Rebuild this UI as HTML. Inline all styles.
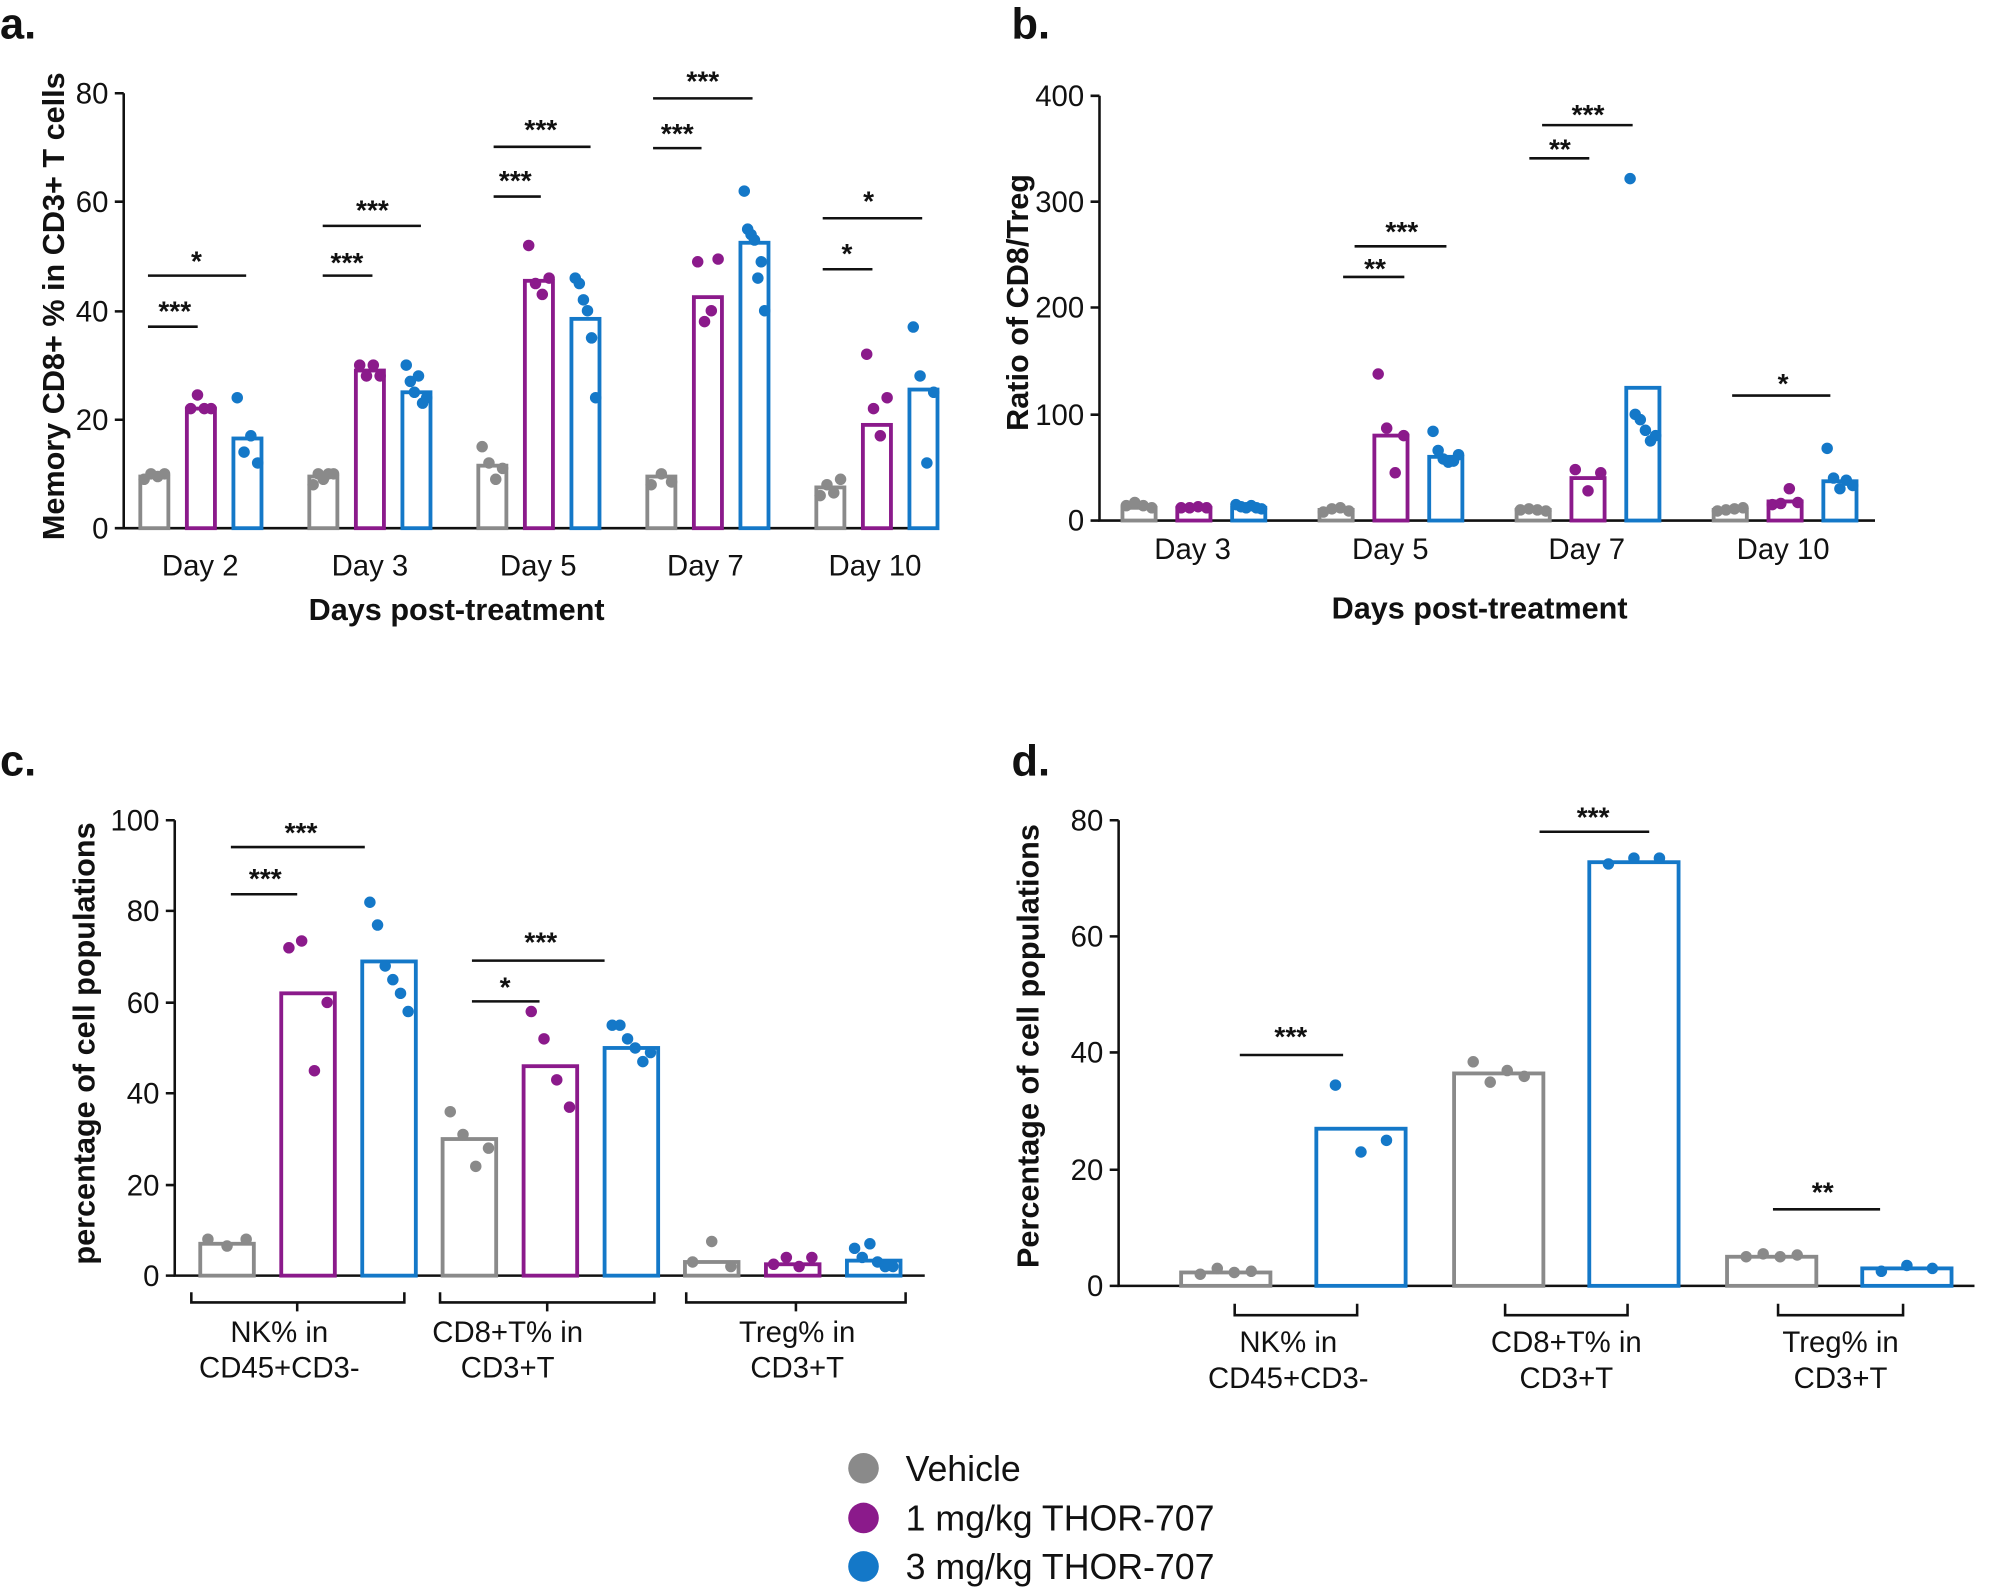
<!DOCTYPE html>
<html><head><meta charset="utf-8"><style>
html,body{margin:0;padding:0;background:#fff}
svg{display:block}
text{font-family:"Liberation Sans",Arial,sans-serif;fill:#111}
</style></head><body>
<svg id="s" width="2000" height="1587" viewBox="0 0 1568 1244" xmlns="http://www.w3.org/2000/svg">
<g font-weight="bold" font-size="34">
<text x="0" y="30">a.</text><text x="793" y="30">b.</text>
<text x="0" y="608">c.</text><text x="793" y="608">d.</text>
</g>
<g stroke="#111" stroke-width="2" fill="none">
<path d="M97,73V414H735"/>
<path d="M90,73H97M90,158H97M90,244H97M90,329H97M90,414H97"/>
<path d="M862,75V408H1470"/>
<path d="M855,75H862M855,158H862M855,241H862M855,325H862M855,408H862"/>
<path d="M137,643V1000H725"/>
<path d="M130,643H137M130,714H137M130,786H137M130,857H137M130,929H137M130,1000H137"/>
<path d="M877,643V1008H1548"/>
<path d="M870,643H877M870,734H877M870,825H877M870,917H877M870,1008H877"/>
<path d="M150,1013V1021H317V1013M233,1021V1028"/>
<path d="M345,1013V1021H513V1013M429,1021V1028"/>
<path d="M538,1013V1021H710V1013M624,1021V1028"/>
<path d="M968,1022V1031H1064V1022"/>
<path d="M1180,1022V1031H1276V1022"/>
<path d="M1394,1022V1031H1492V1022"/>
</g>
<g font-size="23" text-anchor="end">
<text x="85" y="81">80</text><text x="85" y="166">60</text><text x="85" y="252">40</text><text x="85" y="337">20</text><text x="85" y="422">0</text>
<text x="850" y="83">400</text><text x="850" y="166">300</text><text x="850" y="249">200</text><text x="850" y="333">100</text><text x="850" y="416">0</text>
<text x="125" y="651">100</text><text x="125" y="722">80</text><text x="125" y="794">60</text><text x="125" y="865">40</text><text x="125" y="937">20</text><text x="125" y="1008">0</text>
<text x="865" y="651">80</text><text x="865" y="742">60</text><text x="865" y="833">40</text><text x="865" y="925">20</text><text x="865" y="1016">0</text>
</g>
<g font-size="23" text-anchor="middle">
<text x="157" y="451">Day 2</text><text x="290" y="451">Day 3</text><text x="422" y="451">Day 5</text><text x="553" y="451">Day 7</text><text x="686" y="451">Day 10</text>
<text x="935" y="438">Day 3</text><text x="1090" y="438">Day 5</text><text x="1244" y="438">Day 7</text><text x="1398" y="438">Day 10</text>
<text x="219" y="1052">NK% in</text><text x="219" y="1080">CD45+CD3-</text>
<text x="398" y="1052">CD8+T% in</text><text x="398" y="1080">CD3+T</text>
<text x="625" y="1052">Treg% in</text><text x="625" y="1080">CD3+T</text>
<text x="1010" y="1060">NK% in</text><text x="1010" y="1088">CD45+CD3-</text>
<text x="1228" y="1060">CD8+T% in</text><text x="1228" y="1088">CD3+T</text>
<text x="1443" y="1060">Treg% in</text><text x="1443" y="1088">CD3+T</text>
</g>
<g font-size="24" font-weight="bold" text-anchor="middle">
<text x="358" y="486">Days post-treatment</text>
<text x="1160" y="485">Days post-treatment</text>
<text transform="translate(50,240) rotate(-90)">Memory CD8+ % in CD3+ T cells</text>
<text transform="translate(806,237) rotate(-90)">Ratio of CD8/Treg</text>
<text transform="translate(74,818) rotate(-90)">percentage of cell populations</text>
<text transform="translate(814,820) rotate(-90)">Percentage of cell populations</text>
</g>
<g id="dyn"></g>
<g font-size="28">
<circle cx="677" cy="1151" r="12" fill="#8a8a8a"/><text x="710" y="1161">Vehicle</text>
<circle cx="677" cy="1190" r="12" fill="#8b1a8b"/><text x="710" y="1200">1 mg/kg THOR-707</text>
<circle cx="677" cy="1228" r="12" fill="#1478c8"/><text x="710" y="1238">3 mg/kg THOR-707</text>
</g>
<g font-size="22" font-weight="bold" text-anchor="middle">
<text x="137" y="251">***</text><text x="154" y="212">*</text>
<text x="272" y="213">***</text><text x="292" y="172">***</text>
<text x="404" y="149">***</text><text x="424" y="109">***</text>
<text x="531" y="112">***</text><text x="551" y="71">***</text>
<text x="664" y="206">*</text><text x="681" y="165">*</text>
<text x="1078" y="218">**</text><text x="1099" y="189">***</text>
<text x="1223" y="124">**</text><text x="1245" y="97">***</text>
<text x="1398" y="308">*</text>
<text x="208" y="696">***</text><text x="236" y="660">***</text>
<text x="396" y="781">*</text><text x="424" y="746">***</text>
<text x="1012" y="820">***</text><text x="1249" y="648">***</text><text x="1429" y="942">**</text>
</g>
<g stroke="#111" stroke-width="2">
<path d="M116,256H155M116,216H193M253,216H292M253,177H330M387,154H424M387,115H463M512,116H550M512,77H590M645,211H684M645,171H723"/>
<path d="M1053,217H1101M1062,193H1134M1199,124H1246M1209,98H1280M1358,310H1435"/>
<path d="M181,701H233M181,664H286M370,785H423M370,753H474M972,827H1053M1207,652H1293M1390,948H1474"/>
</g>
</svg>
<script>
var C=["#8a8a8a","#8b1a8b","#1478c8"];
var g=document.getElementById("dyn"),h="";
function bar(x,w,y0,sc,v,c){var t=y0-v*sc;h+='<rect x="'+x+'" y="'+t+'" width="'+w+'" height="'+(y0-t)+'" fill="none" stroke="'+c+'" stroke-width="3"/>';}
function dots(cx,w,y0,sc,vals,c){var n=vals.length;for(var i=0;i<n;i++){var x=cx-w/2+ (n>1? i*w/(n-1):w/2);h+='<circle cx="'+x+'" cy="'+(y0-vals[i]*sc)+'" r="4.5" fill="'+c+'"/>';}}
var A=[[9.5,22,16.5],[9.5,29,25],[11.5,45.5,38.5],[9.5,42.5,52.5],[7.5,19,25.5]];
var AD=[[[9,10,9.5,10],[22,24.5,22,22],[24,14,17,12]],[[8,10,9,10,10],[30,28,30,28],[30,27,25,28,23,24]],[[15,12,9,11],[52,45,43,46],[46,45,42,40,35,24]],[[8,10,8.5],[49,38,40,49.5],[62,55,54,53,46,49,40]],[[6,8,6.5,9],[32,22,17,24],[37,28,12,25]]];
for(var i=0;i<5;i++)for(var j=0;j<3;j++){var x=110+i*132.5+j*36.5;bar(x,22,414,4.2625,A[i][j],C[j]);dots(x+11,16,414,4.2625,AD[i][j],C[j]);}
var B=[[12,12,12],[10,80,60],[10,40,125],[10,18,37]];
var BD=[[[14,17,14,12],[12,12,13,12],[15,13,12,14,12,11]],[[8,11,12,9],[138,87,45,80],[84,66,58,55,56,62]],[[10,11,10,9],[48,28,45],[322,100,95,85,75,80]],[[9,10,11,12],[15,16,30,17],[68,40,30,38,33]]];
for(var i=0;i<4;i++)for(var j=0;j<3;j++){var x=880+i*154.5+j*43;bar(x,26,408,0.8325,B[i][j],C[j]);dots(x+13,20,408,0.8325,BD[i][j],C[j]);}
var Cc=[[7,62,69],[30,46,50],[3,2.5,3.3]];
var CD=[[[8,6.5,8],[72,73.5,45,60],[82,77,68,65,62,58]],[[36,31,24,28],[58,52,43,37],[55,55,52,50,47,49]],[[3,7.5,2],[2.5,4,2,4],[6,4,7,3,2,2]]];
for(var i=0;i<3;i++)for(var j=0;j<3;j++){var x=157+i*190+j*63.5;bar(x,42,1000,3.57,Cc[i][j],C[j]);dots(x+21,30,1000,3.57,CD[i][j],C[j]);}
var D=[[2.3,27],[36.5,72.8],[5,3]];
var DD=[[[2,3,2.3,2.5],[34.5,23,25]],[[38.5,35,37,36],[72.5,73.5,73.5]],[[5,5.5,5,5.3],[2.5,3.5,3]]];
for(var i=0;i<3;i++)for(var j=0;j<2;j++){var x=926+i*214+j*106;bar(x,70,1008,4.5625,D[i][j],C[j*2]);dots(x+35,40,1008,4.5625,DD[i][j],C[j*2]);}
g.innerHTML=h;
</script>
</body></html>
